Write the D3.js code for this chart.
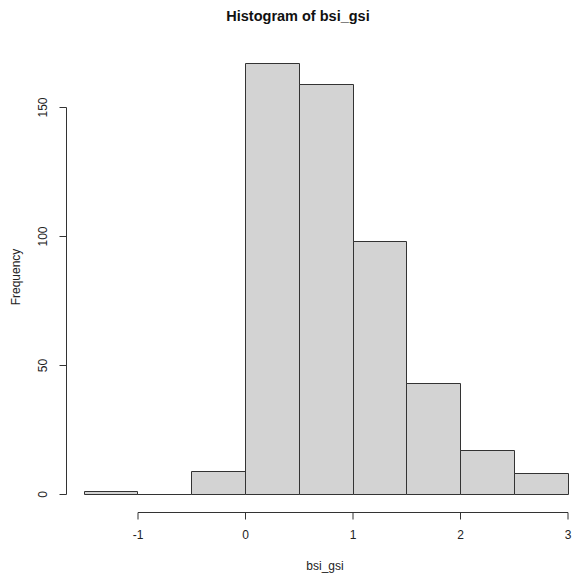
<!DOCTYPE html>
<html>
<head>
<meta charset="utf-8">
<script src="https://cdn.jsdelivr.net/npm/d3@7.9.0/dist/d3.min.js"></script>
<style>
  body { margin: 0; background: #fff; }
  svg { font-family: "Liberation Sans", Arial, sans-serif; }
</style>
</head>
<body>
<svg id="chart" width="573" height="578"></svg>
<script>
const binStarts = [-1.5, -1, -0.5, 0, 0.5, 1, 1.5, 2, 2.5];
const binWidth = 0.5;
const counts = [1, 0, 9, 167, 159, 98, 43, 17, 8];
const xTicks = [-1, 0, 1, 2, 3];
const yTicks = [0, 50, 100, 150];

const svg = d3.select('#chart');
const x = d3.scaleLinear().domain([0, 3]).range([245, 567.5]);
const y = d3.scaleLinear().domain([0, 150]).range([494, 107]);

const bins = binStarts.map((s, i) => ({ s, c: counts[i] }));

// bars (zero-height bins drawn as a flat line, like R does)
svg.selectAll('path.bar')
  .data(bins)
  .join('path')
  .attr('class', 'bar')
  .attr('d', (d) => {
    const x0 = Math.round(x(d.s)) + 0.5;
    const x1 = Math.round(x(d.s + binWidth)) + 0.5;
    const y0 = Math.round(y(0)) + 0.5;
    const y1 = Math.round(y(d.c)) + 0.5;
    return `M${x0},${y0}V${y1}H${x1}V${y0}Z`;
  })
  .attr('fill', '#d3d3d3')
  .attr('stroke', '#333')
  .attr('stroke-width', 1);

// x axis
const xAxis = svg.append('g').attr('transform', 'translate(0.5,512.5)');
xAxis.append('line')
  .attr('x1', x(xTicks[0])).attr('x2', x(xTicks[xTicks.length - 1]))
  .attr('stroke', '#333');
xTicks.forEach((t) => {
  xAxis.append('line').attr('x1', x(t)).attr('x2', x(t)).attr('y1', 0).attr('y2', 7).attr('stroke', '#333');
  xAxis.append('text').attr('x', x(t)).attr('y', 26)
    .attr('text-anchor', 'middle').attr('font-size', 12).attr('fill', '#222').text(t);
});

// y axis
const yAxis = svg.append('g').attr('transform', 'translate(66.5,0.5)');
yAxis.append('line')
  .attr('y1', y(yTicks[0])).attr('y2', y(yTicks[yTicks.length - 1]))
  .attr('stroke', '#333');
yTicks.forEach((t) => {
  yAxis.append('line').attr('x1', 0).attr('x2', -7).attr('y1', y(t)).attr('y2', y(t)).attr('stroke', '#333');
  yAxis.append('text')
    .attr('transform', `translate(-20,${y(t)}) rotate(-90)`)
    .attr('text-anchor', 'middle').attr('font-size', 12).attr('fill', '#222').text(t);
});

// titles
svg.append('text').attr('x', 298).attr('y', 21)
  .attr('text-anchor', 'middle').attr('font-size', 14.5).attr('font-weight', 'bold').attr('fill', '#111')
  .text('Histogram of bsi_gsi');
svg.append('text').attr('x', 325).attr('y', 570)
  .attr('text-anchor', 'middle').attr('font-size', 12).attr('fill', '#222').text('bsi_gsi');
svg.append('text').attr('transform', 'translate(20,277) rotate(-90)')
  .attr('text-anchor', 'middle').attr('font-size', 12).attr('fill', '#222').text('Frequency');
</script>
</body>
</html>
